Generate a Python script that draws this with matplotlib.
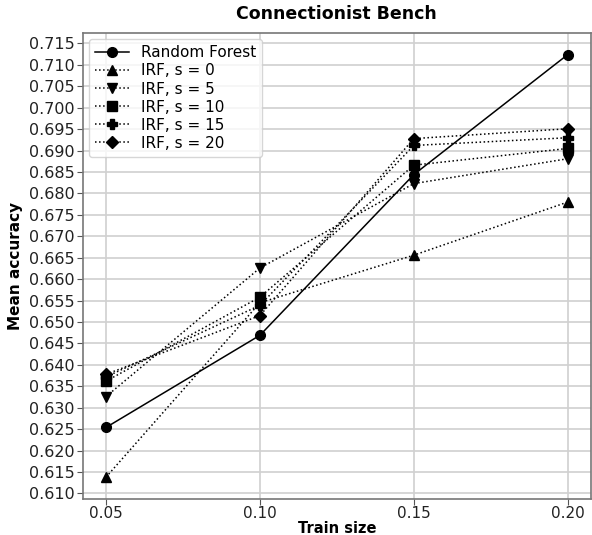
import matplotlib
matplotlib.use("Agg")
import matplotlib.pyplot as plt
import numpy as np

train_size = [0.05, 0.10, 0.15, 0.20]

rf = [0.6254, 0.6469, 0.6844, 0.7124]
irf_s0 = [0.6138, 0.6545, 0.6656, 0.6780]
irf_s5 = [0.6326, 0.6626, 0.6823, 0.6881]
irf_s10 = [0.6362, 0.6558, 0.6866, 0.6905]
irf_s15 = [0.6372, 0.6539, 0.6912, 0.6930]
irf_s20 = [0.6378, 0.6515, 0.6928, 0.6951]

labels = ["IRF, s = 0", "IRF, s = 5", "IRF, s = 10", "IRF, s = 15", "IRF, s = 20"]
markers = ["^", "v", "s", "P", "D"]

plt.rcParams['font.family'] = ['DejaVu Sans']

fig = plt.figure(figsize=(5.92, 5.35), dpi=100)
ax = fig.add_axes([0.14, 0.068, 0.858, 0.870])

ax.plot(train_size, rf, color="black", linestyle="-", marker="o", markersize=7,
        linewidth=1.1, label="Random Forest")
for vals, lab, m in zip([irf_s0, irf_s5, irf_s10, irf_s15, irf_s20], labels, markers):
    ax.plot(train_size, vals, color="black", linestyle=":", marker=m,
            markersize=7 if m != "D" else 6.5, linewidth=1.1, label=lab)

ax.set_xlim(0.0425, 0.2075)
ax.set_ylim(0.6088, 0.7174)
ax.set_xticks(train_size)
ax.set_yticks(np.arange(0.610, 0.7151, 0.005))
ax.xaxis.set_major_formatter(matplotlib.ticker.FormatStrFormatter("%.2f"))
ax.yaxis.set_major_formatter(matplotlib.ticker.FormatStrFormatter("%.3f"))

ax.grid(True, color="#d0d0d0", linewidth=1.2)
ax.set_axisbelow(True)
for sp in ax.spines.values():
    sp.set_color("#777777")
    sp.set_linewidth(1.2)
ax.tick_params(axis="y", labelsize=11.5, length=4, pad=2, color="#555555", labelcolor="#222222")
ax.tick_params(axis="x", labelsize=11, length=4, pad=1, color="#555555", labelcolor="#222222")

ax.set_title("Connectionist Bench", fontsize=12.5, fontweight="bold", pad=10)
ax.set_xlabel("Train size", fontsize=10.5, fontweight="bold", labelpad=0)
ax.set_ylabel("Mean accuracy", fontsize=11, fontweight="bold", labelpad=4)

ax.legend(loc="upper left", fontsize=11, frameon=True, handlelength=2.2,
          borderaxespad=0.4, labelspacing=0.2, handletextpad=0.8,
          borderpad=0.4)

fig.savefig("out.png", dpi=100)
